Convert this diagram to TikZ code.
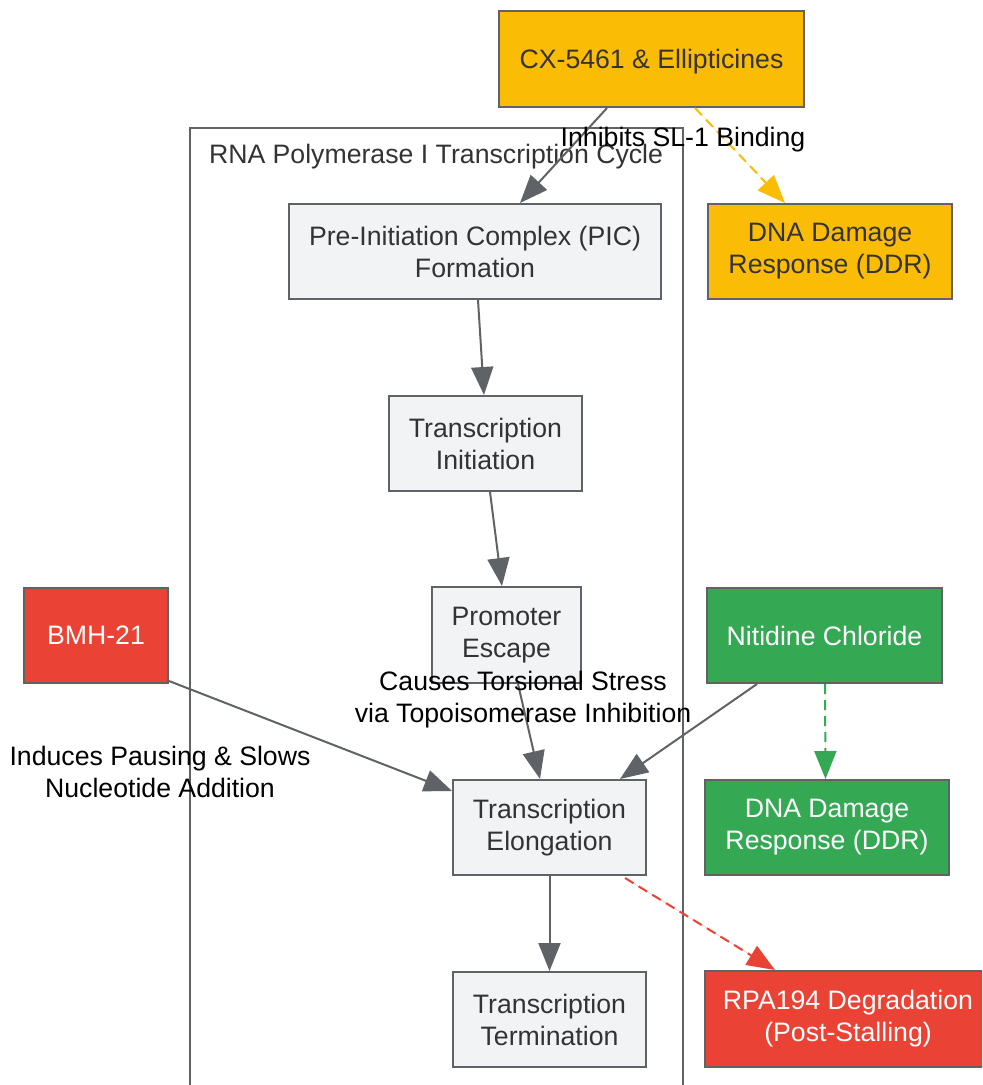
\documentclass[tikz,border=0pt]{standalone}
\usepackage{fontspec}
\setmainfont{Liberation Sans}
\usetikzlibrary{arrows.meta,calc}
\definecolor{edgegray}{HTML}{5F6368}
\definecolor{boxgray}{HTML}{F1F3F4}
\definecolor{gyellow}{HTML}{FBBC05}
\definecolor{gred}{HTML}{EA4335}
\definecolor{ggreen}{HTML}{34A853}
\definecolor{txtdark}{HTML}{333333}
\begin{document}
\begin{tikzpicture}[x=0.75pt,y=-0.75pt,
  every node/.style={font=\fontsize{20}{24}\selectfont},
  box/.style={draw=edgegray,line width=1.5pt,align=center,inner sep=0pt,rectangle},
  graybox/.style={box,fill=boxgray,text=txtdark},
  yellowbox/.style={box,fill=gyellow,text=txtdark},
  redbox/.style={box,fill=gred,text=white},
  greenbox/.style={box,fill=ggreen,text=white},
  sz/.style 2 args={minimum width={#1*0.75pt},minimum height={#2*0.75pt}},
  conn/.style={draw=edgegray,line width=1.5pt,-{Triangle[length=21pt,width=16.5pt]}},
  dconn/.style={line width=1.5pt,dash pattern=on 7.5pt off 4.5pt,-{Triangle[length=21pt,width=16.5pt]}},
  elabel/.style={align=center,text=black},
]
\useasboundingbox (0,0) rectangle (982,1085);
\clip (0,0) rectangle (982,1085);
% cluster
\draw[edgegray,line width=1.5pt] (190,128) rectangle (683,1095);
\node[text=txtdark] (ctitle) at (436,157) {RNA Polymerase I Transcription Cycle};
% nodes
\node[yellowbox,sz={305}{96},text depth=0pt] (cx) at (651.5,59) {CX-5461 \& Ellipticines};
\node[graybox,sz={372}{95}] (pic) at (475,251.5) {Pre-Initiation Complex (PIC)\\Formation};
\node[yellowbox,sz={244}{95}] (ddry) at (830,251.5) {DNA Damage\\Response (DDR)};
\node[graybox,sz={193}{95}] (init) at (485.5,443.5) {Transcription\\Initiation};
\node[graybox,sz={149}{96}] (esc) at (506.5,635) {Promoter\\Escape};
\node[redbox,sz={144}{95}] (bmh) at (96,635.5) {BMH-21};
\node[greenbox,sz={235}{95}] (nit) at (824.5,635.5) {Nitidine Chloride};
\node[greenbox,sz={244}{95}] (ddrg) at (827,827.5) {DNA Damage\\Response (DDR)};
\node[graybox,sz={193}{95}] (elong) at (549.5,827.5) {Transcription\\Elongation};
\node[graybox,sz={193}{95}] (term) at (549.5,1019.5) {Transcription\\Termination};
\node[redbox,sz={286}{96}] (rpa) at (848,1019) {RPA194 Degradation\\(Post-Stalling)};
% connectors
\draw[conn] ($(cx.south)+(-44.5,0)$) -- ($(pic.north)+(45,0)$);
\draw[dconn,draw=gyellow,fill=gyellow] ($(cx.south)+(43.5,0)$) -- ($(ddry.north)+(-45,0)$);
\draw[conn] ($(pic.south)+(3,0)$) -- ($(init.north)+(-1.5,0)$);
\draw[conn] ($(init.south)+(4.5,0)$) -- ($(esc.north)+(-4.5,0)$);
\draw[conn] ($(esc.south)+(11.5,0)$) -- ($(elong.north)+(-9.5,0)$);
\draw[conn] ($(bmh.south east)+(0,-3)$) -- ($(elong.north west)+(0,12)$);
\draw[conn] ($(nit.south)+(-67.5,0)$) -- ($(elong.north)+(70.5,0)$);
\draw[dconn,draw=ggreen,fill=ggreen] ($(nit.south)+(0.5,0)$) -- ($(ddrg.north)+(-1.5,0)$);
\draw[conn] (elong.south) -- (term.north);
\draw[dconn,draw=gred,fill=gred] ($(elong.south)+(75.5,2)$) -- ($(rpa.north)+(-73,0)$);
% labels
\node[elabel] (l1) at (683,140) {Inhibits SL-1 Binding};
\node[elabel] (l2) at (523,700) {Causes Torsional Stress\\via Topoisomerase Inhibition};
\node[elabel] (l3) at (160,772) {Induces Pausing \& Slows\\Nucleotide Addition};
\end{tikzpicture}
\end{document}
